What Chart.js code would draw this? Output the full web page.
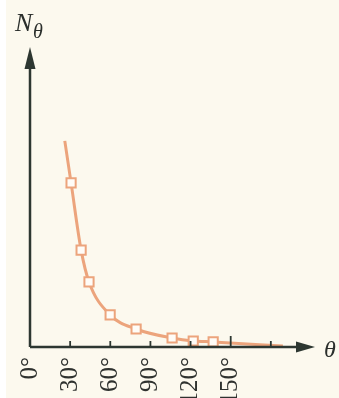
<!DOCTYPE html>
<html>
<head>
<meta charset="utf-8">
<script src="https://cdn.jsdelivr.net/npm/chart.js@4.4.1/dist/chart.umd.min.js"></script>
<style>
  html, body { margin: 0; padding: 0; background: #fcf9ee; }
  #wrap { width: 339px; height: 398px; }
</style>
</head>
<body>
<div id="wrap"><canvas id="nChart"></canvas></div>
<script>
// angle in degrees, N(theta) in arbitrary units (curve ends carry no marker)
const thetaDeg = [26, 30.7, 38.2, 44.1, 59.9, 79.3, 106.2, 122, 136.9, 189];
const nTheta   = [68.7, 54.7, 32.3, 21.7, 10.7, 6.0, 3.0, 2.0, 1.7, 0.3];
const tickValues = [0, 30, 60, 90, 120, 150];
const tickLabels = ['0°', '30°', '60°', '90°', '120°', '150°'];
const tickMarks  = [30, 60, 90, 120, 150, 180];

const axisColor = '#2d3731';
const curveColor = '#eca47c';

const axesPlugin = {
  id: 'axesPlugin',
  beforeDraw(chart) {
    const c = chart.ctx;
    c.save();
    c.fillStyle = '#ffffff';
    c.fillRect(0, 0, chart.width, chart.height);
    c.fillStyle = '#fcf9ee';
    c.fillRect(6, 0, chart.width - 6, chart.height);
    c.restore();
  },
  afterDatasetsDraw(chart) {
    const c = chart.ctx;
    const x = chart.scales.x, y = chart.scales.y;
    const x0 = x.getPixelForValue(0);
    const y0 = y.getPixelForValue(0);
    const top = y.getPixelForValue(y.max);
    const right = x.getPixelForValue(x.max);
    c.save();
    c.strokeStyle = axisColor;
    c.fillStyle = axisColor;
    c.lineWidth = 2.5;
    c.beginPath();
    c.moveTo(x0, y0);
    c.lineTo(x0, top + 18);
    c.moveTo(x0, y0);
    c.lineTo(right - 16, y0);
    c.stroke();
    // arrow heads
    c.beginPath();
    c.moveTo(x0, top);
    c.lineTo(x0 - 5.5, top + 22);
    c.lineTo(x0 + 5.5, top + 22);
    c.closePath();
    c.fill();
    c.beginPath();
    c.moveTo(right, y0);
    c.lineTo(right - 19, y0 - 5.5);
    c.lineTo(right - 19, y0 + 5.5);
    c.closePath();
    c.fill();
    // tick marks point upward
    c.lineWidth = 1.8;
    tickMarks.forEach(v => {
      const px = x.getPixelForValue(v);
      c.beginPath();
      c.moveTo(px, y0);
      c.lineTo(px, y0 - (v === 150 ? 11 : 6));
      c.stroke();
    });
    // axis names
    c.fillStyle = '#2b2f2c';
    c.textBaseline = 'alphabetic';
    c.font = 'italic 26px "Liberation Serif"';
    c.fillText('N', 15, 31);
    c.font = 'italic 20px "Liberation Serif"';
    c.fillText('θ', 33, 38);
    c.font = 'italic 24px "Liberation Serif"';
    c.fillText('θ', 324, 357);
    c.restore();
  }
};

new Chart(document.getElementById('nChart'), {
  type: 'line',
  data: {
    datasets: [{
      data: thetaDeg.map((t, i) => ({ x: t, y: nTheta[i] })),
      borderColor: curveColor,
      borderWidth: 3,
      cubicInterpolationMode: 'monotone',
      pointStyle: 'rect',
      pointRadius: ctx => (ctx.dataIndex === 0 || ctx.dataIndex === thetaDeg.length - 1) ? 0 : 6.5,
      pointBorderWidth: 2,
      pointBorderColor: curveColor,
      pointBackgroundColor: '#fffcf7',
      clip: false
    }]
  },
  options: {
    responsive: true,
    maintainAspectRatio: false,
    animation: false,
    layout: { padding: { left: 30, right: 24, top: 47, bottom: 0 } },
    plugins: { legend: { display: false }, tooltip: { enabled: false } },
    scales: {
      x: {
        type: 'linear',
        min: 0,
        max: 213,
        grid: { display: false, drawTicks: false },
        border: { display: false },
        afterBuildTicks: axis => { axis.ticks = tickValues.map(v => ({ value: v })); },
        afterFit: axis => { axis.height = 51; },
        ticks: {
          autoSkip: false,
          minRotation: 90,
          maxRotation: 90,
          padding: 10,
          labelOffset: 0,
          color: '#2f322f',
          font: { family: '"Liberation Serif"', size: 25 },
          callback: v => tickLabels[tickValues.indexOf(v)]
        }
      },
      y: {
        display: false,
        min: 0,
        max: 100
      }
    }
  },
  plugins: [axesPlugin]
});
</script>
</body>
</html>
